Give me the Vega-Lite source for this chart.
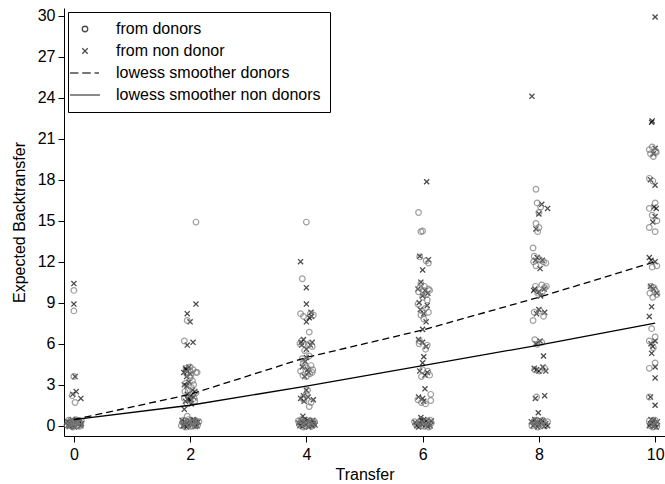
{
  "$schema": "https://vega.github.io/schema/vega-lite/v6.json",
  "width": 601,
  "height": 428,
  "autosize": {"type": "none"},
  "padding": {"left": 64, "top": 8, "right": 0, "bottom": 48},
  "background": "white",
  "config": {
    "view": {"stroke": null},
    "font": "Liberation Sans",
    "axis": {"grid": false, "domainColor": "black", "tickColor": "black", "labelColor": "black", "titleColor": "black", "labelFontSize": 16, "titleFontSize": 16, "titleFontWeight": "normal", "tickSize": 6, "domainWidth": 1, "tickWidth": 1},
    "legend": {"labelFontSize": 16, "labelColor": "black", "labelLimit": 400}
  },
  "datasets": {
    "donors": [
      {"t":-0.08,"y":0.1},{"t":-0.04,"y":0.3},{"t":0,"y":0.05},{"t":0.04,"y":0.2},{"t":0.08,"y":0},{"t":0.11,"y":0.15},{"t":-0.1,"y":0.25},{"t":0.02,"y":0.35},{"t":0.06,"y":0.4},{"t":-0.06,"y":0},{"t":0.09,"y":0.3},{"t":0,"y":0.2},
      {"t":-0.12,"y":0.05},{"t":-0.09,"y":0.4},{"t":-0.02,"y":-0.1},{"t":0.05,"y":0.0},{"t":0.13,"y":0.35},{"t":0.1,"y":-0.05},{"t":-0.05,"y":0.15},{"t":0.03,"y":0.45},
      {"t":0,"y":9.9},{"t":0,"y":8.4},{"t":0,"y":3.6},{"t":-0.03,"y":2.2},{"t":0.02,"y":1.7},
      {"t":2.1,"y":14.9},{"t":1.95,"y":7.7},{"t":1.9,"y":6.2},{"t":1.95,"y":0.7},
      {"t":2,"y":4.3},{"t":2.05,"y":4.1},{"t":2.1,"y":3.9},{"t":2.12,"y":3.9},{"t":2,"y":3.5},{"t":2.06,"y":3},{"t":1.92,"y":3.1},{"t":1.97,"y":2.6},{"t":2.03,"y":2.2},{"t":1.9,"y":2},{"t":2.08,"y":1.8},{"t":1.95,"y":1.6},{"t":2,"y":4},{"t":1.93,"y":4.2},{"t":2.02,"y":2.8},{"t":2.1,"y":2.4},
      {"t":1.94,"y":3.8},{"t":2.04,"y":3.3},{"t":1.91,"y":2.5},{"t":2.07,"y":2.0},{"t":1.99,"y":1.9},{"t":2.01,"y":3.7},
      {"t":1.9,"y":0.1},{"t":1.95,"y":0.3},{"t":2,"y":0},{"t":2.05,"y":0.2},{"t":2.1,"y":0.35},{"t":2.13,"y":0.05},{"t":1.87,"y":0.25},{"t":2.02,"y":0.4},{"t":2.08,"y":0},{"t":1.98,"y":0.15},
      {"t":1.85,"y":0.0},{"t":1.92,"y":-0.1},{"t":1.97,"y":0.45},{"t":2.03,"y":-0.05},{"t":2.11,"y":0.15},{"t":2.15,"y":0.3},{"t":1.89,"y":0.4},{"t":2.06,"y":0.3},
      {"t":4,"y":14.9},{"t":3.93,"y":10.75},{"t":3.9,"y":8.2},{"t":3.95,"y":8},{"t":4.12,"y":8.1},{"t":4.05,"y":6.85},{"t":3.92,"y":6.2},{"t":4.05,"y":6},{"t":4.1,"y":5.8},{"t":3.97,"y":5.5},{"t":3.93,"y":4.9},{"t":4.05,"y":5.1},{"t":3.95,"y":4.6},{"t":4.08,"y":4.4},{"t":4.02,"y":4.2},{"t":3.9,"y":4},{"t":4.1,"y":3.9},{"t":4,"y":3.6},{"t":4.06,"y":3.8},{"t":3.93,"y":2},{"t":4.08,"y":1.7},{"t":4.02,"y":2.6},{"t":4.05,"y":1.4},{"t":3.96,"y":1.9},{"t":4,"y":2.3},
      {"t":3.98,"y":4.4},{"t":4.11,"y":4.1},{"t":3.94,"y":3.7},{"t":4.03,"y":5.9},{"t":3.89,"y":6.0},{"t":4.07,"y":8.2},
      {"t":3.88,"y":0.1},{"t":3.93,"y":0.3},{"t":3.98,"y":0},{"t":4.03,"y":0.2},{"t":4.08,"y":0.35},{"t":4.12,"y":0.05},{"t":4,"y":0.4},{"t":3.9,"y":0.2},{"t":4.06,"y":0},{"t":4.1,"y":0.25},
      {"t":3.86,"y":0.35},{"t":3.95,"y":-0.1},{"t":4.01,"y":0.1},{"t":4.14,"y":0.3},{"t":4.09,"y":-0.05},{"t":3.91,"y":0.45},
      {"t":5.93,"y":15.6},{"t":5.97,"y":14.2},{"t":6,"y":14.25},{"t":5.95,"y":12.35},{"t":6.06,"y":12.07},{"t":6.1,"y":11.9},{"t":5.97,"y":10.4},{"t":6.03,"y":10.2},{"t":6.1,"y":10},{"t":5.93,"y":9.8},{"t":6.06,"y":9.6},{"t":6,"y":9.4},{"t":5.95,"y":10.1},{"t":6.08,"y":9.2},{"t":5.92,"y":8.9},{"t":6.05,"y":8.6},{"t":6.1,"y":8.3},{"t":5.97,"y":8.1},{"t":6.02,"y":7.8},{"t":5.95,"y":6.2},{"t":6.08,"y":5.9},{"t":6.05,"y":5.6},{"t":6,"y":4.1},{"t":6.12,"y":3.7},{"t":5.98,"y":3.6},{"t":6.14,"y":2.3},{"t":6.14,"y":1.85},{"t":5.98,"y":1.7},{"t":6.05,"y":1.6},{"t":5.92,"y":1.9},
      {"t":6.01,"y":9.9},{"t":5.99,"y":8.4},{"t":6.12,"y":9.9},{"t":5.94,"y":6.0},{"t":6.09,"y":4.0},
      {"t":5.88,"y":0.1},{"t":5.94,"y":0.25},{"t":6,"y":0},{"t":6.05,"y":0.3},{"t":6.1,"y":0.1},{"t":6.15,"y":0.2},{"t":5.97,"y":0.4},{"t":6.08,"y":0.35},{"t":5.91,"y":0},
      {"t":5.86,"y":0.3},{"t":6.03,"y":-0.05},{"t":6.13,"y":0.4},{"t":5.96,"y":0.15},{"t":6.11,"y":-0.1},
      {"t":7.95,"y":17.3},{"t":7.97,"y":16.3},{"t":8.03,"y":16},{"t":8,"y":15.6},{"t":7.95,"y":14.8},{"t":8,"y":14.5},{"t":7.98,"y":14.2},{"t":7.9,"y":13},{"t":7.92,"y":12.4},{"t":8,"y":12.2},{"t":8.08,"y":12},{"t":8.12,"y":11.9},{"t":7.95,"y":11.7},{"t":7.94,"y":10.2},{"t":8.05,"y":10.3},{"t":8.1,"y":10.1},{"t":7.98,"y":9.7},{"t":7.92,"y":8.3},{"t":8.08,"y":8},{"t":7.9,"y":7.7},{"t":8.02,"y":8.4},{"t":7.93,"y":6.3},{"t":8.05,"y":6.1},{"t":7.97,"y":5.95},{"t":7.93,"y":4.1},{"t":8.1,"y":4.2},{"t":7.96,"y":2.1},
      {"t":8.06,"y":9.8},{"t":8.13,"y":10.2},{"t":7.91,"y":12.0},{"t":8.03,"y":12.1},{"t":8.01,"y":4.0},
      {"t":7.95,"y":0.1},{"t":8,"y":0.3},{"t":8.05,"y":0.05},{"t":8.1,"y":0.2},{"t":7.9,"y":0.25},{"t":8.12,"y":0},{"t":7.93,"y":0.4},
      {"t":7.88,"y":0.0},{"t":7.98,"y":-0.1},{"t":8.07,"y":0.4},{"t":8.15,"y":0.3},{"t":8.02,"y":0.15},
      {"t":9.9,"y":20.2},{"t":9.95,"y":20.4},{"t":10.02,"y":20},{"t":9.97,"y":19.7},{"t":9.9,"y":18.1},{"t":9.96,"y":17.9},{"t":10,"y":16.3},{"t":9.9,"y":15.9},{"t":9.95,"y":15.4},{"t":10.03,"y":15},{"t":9.9,"y":14.5},{"t":10,"y":14.2},{"t":9.95,"y":11.6},{"t":10.03,"y":11.7},{"t":9.93,"y":10.2},{"t":10,"y":9.9},{"t":10.03,"y":9.6},{"t":9.96,"y":9.4},{"t":9.94,"y":7.1},{"t":9.9,"y":6.2},{"t":10,"y":6.5},{"t":9.97,"y":5.7},{"t":10,"y":4.6},{"t":9.9,"y":4.2},{"t":9.9,"y":2.1},
      {"t":10.01,"y":20.1},{"t":9.92,"y":19.9},{"t":9.98,"y":10.1},{"t":9.91,"y":9.7},
      {"t":9.92,"y":0},{"t":9.97,"y":0.3},{"t":10.02,"y":0.1},{"t":9.94,"y":0.2},{"t":10,"y":0.4},{"t":9.9,"y":0.35},{"t":10.03,"y":-0.05},{"t":9.96,"y":-0.1}
    ],
    "nondonors": [
      {"t":-0.07,"y":0.2},{"t":-0.02,"y":0},{"t":0.03,"y":0.3},{"t":0.07,"y":0.1},{"t":0.1,"y":0.25},{"t":-0.1,"y":0.05},{"t":0.05,"y":0.4},{"t":-0.05,"y":0.35},{"t":0.12,"y":0},{"t":0,"y":0.1},
      {"t":-0.11,"y":0.3},{"t":-0.03,"y":0.45},{"t":0.01,"y":-0.1},{"t":0.08,"y":0.35},{"t":0.13,"y":0.15},{"t":-0.08,"y":-0.05},
      {"t":0,"y":10.4},{"t":0,"y":8.9},{"t":0.02,"y":3.6},{"t":0.04,"y":2.5},{"t":-0.02,"y":2.3},{"t":0.12,"y":2},
      {"t":2.1,"y":8.9},{"t":1.95,"y":8.2},{"t":2,"y":7.6},{"t":1.95,"y":5.9},{"t":2.05,"y":6.1},{"t":1.9,"y":1.2},
      {"t":1.92,"y":4.2},{"t":1.96,"y":4},{"t":2,"y":3.8},{"t":1.94,"y":3.6},{"t":1.9,"y":3},{"t":1.98,"y":3.2},{"t":2.04,"y":2.6},{"t":1.95,"y":2.3},{"t":2.06,"y":2.1},{"t":2,"y":1.9},{"t":1.92,"y":1.8},{"t":2.02,"y":1.6},{"t":2.08,"y":2.5},{"t":1.97,"y":2},
      {"t":1.93,"y":4.1},{"t":1.89,"y":3.9},{"t":1.98,"y":4.3},{"t":1.94,"y":2.9},{"t":2.01,"y":2.2},{"t":1.96,"y":1.9},
      {"t":1.88,"y":0},{"t":1.93,"y":0.2},{"t":1.99,"y":0.35},{"t":2.04,"y":0.1},{"t":2.1,"y":0.25},{"t":2.12,"y":0},{"t":1.96,"y":0.05},{"t":2.07,"y":0.4},{"t":1.91,"y":0.3},
      {"t":1.86,"y":0.4},{"t":1.94,"y":-0.1},{"t":2.01,"y":0.15},{"t":2.09,"y":-0.05},{"t":2.14,"y":0.3},{"t":1.9,"y":0.05},{"t":2.05,"y":0.45},
      {"t":3.9,"y":12},{"t":4,"y":10.1},{"t":4,"y":8.9},{"t":4.08,"y":8.3},{"t":4.05,"y":7.9},{"t":4,"y":7.6},{"t":3.95,"y":6.3},{"t":4.1,"y":6.1},{"t":4,"y":5.6},{"t":3.92,"y":5.9},{"t":4,"y":5},{"t":3.98,"y":4.7},{"t":3.93,"y":4.3},{"t":4.04,"y":3.9},{"t":3.97,"y":3.6},{"t":4,"y":2.6},{"t":3.9,"y":2},{"t":4.03,"y":2.1},{"t":4.12,"y":1.9},{"t":3.96,"y":1.8},{"t":3.94,"y":0.7},
      {"t":3.91,"y":6.1},{"t":4.07,"y":5.9},{"t":4.02,"y":4.1},{"t":3.95,"y":2.2},{"t":4.09,"y":8.0},
      {"t":3.89,"y":0},{"t":3.95,"y":0.2},{"t":4,"y":0.1},{"t":4.05,"y":0.3},{"t":4.1,"y":0},{"t":4.13,"y":0.2},{"t":3.92,"y":0.35},{"t":4.02,"y":0.4},{"t":4.07,"y":0.15},
      {"t":3.87,"y":0.2},{"t":3.97,"y":0.45},{"t":4.04,"y":-0.1},{"t":4.11,"y":0.4},{"t":3.93,"y":-0.05},{"t":4.15,"y":0.05},
      {"t":6.07,"y":17.85},{"t":5.95,"y":12.4},{"t":6.1,"y":12.15},{"t":6,"y":11.4},{"t":5.97,"y":10.5},{"t":5.92,"y":10},{"t":6.04,"y":9.9},{"t":6,"y":9.5},{"t":6.09,"y":9.7},{"t":5.94,"y":9},{"t":6.08,"y":8.8},{"t":6.02,"y":8.2},{"t":5.96,"y":8.5},{"t":6.06,"y":7.6},{"t":6,"y":7.05},{"t":5.93,"y":6.3},{"t":6,"y":6.1},{"t":6.06,"y":5.8},{"t":6.02,"y":5.05},{"t":6,"y":4.6},{"t":5.95,"y":4},{"t":6.08,"y":3.9},{"t":6.04,"y":3.7},{"t":6.04,"y":2.7},{"t":5.93,"y":2.1},{"t":6,"y":2},{"t":6.02,"y":1.8},{"t":5.97,"y":0.6},
      {"t":5.9,"y":0},{"t":5.95,"y":0.15},{"t":6,"y":0.3},{"t":6.05,"y":0.05},{"t":6.1,"y":0.2},{"t":6.13,"y":0},{"t":5.98,"y":0.4},{"t":6.07,"y":0.35},
      {"t":5.87,"y":0.25},{"t":5.93,"y":-0.1},{"t":6.02,"y":0.45},{"t":6.09,"y":-0.05},{"t":6.15,"y":0.35},{"t":5.99,"y":0.1},
      {"t":7.88,"y":24.1},{"t":8.15,"y":15.9},{"t":8.05,"y":16.2},{"t":8,"y":15.5},{"t":7.95,"y":14.4},{"t":7.97,"y":12.3},{"t":8.02,"y":11.5},{"t":8.06,"y":12.1},{"t":7.93,"y":10},{"t":8,"y":9.8},{"t":8.03,"y":9.5},{"t":8,"y":8.5},{"t":7.96,"y":8.2},{"t":8.1,"y":8.3},{"t":7.95,"y":6},{"t":8.02,"y":6.2},{"t":8.08,"y":5.1},{"t":7.92,"y":4.2},{"t":8,"y":4},{"t":8.07,"y":4.3},{"t":7.94,"y":2},{"t":8.1,"y":2.2},{"t":7.99,"y":0.95},
      {"t":7.91,"y":9.9},{"t":8.09,"y":10.0},{"t":7.94,"y":12.1},{"t":7.96,"y":4.1},{"t":8.12,"y":4.0},
      {"t":7.9,"y":0},{"t":7.95,"y":0.2},{"t":8,"y":0.1},{"t":8.06,"y":0.35},{"t":8.12,"y":0.15},{"t":8.15,"y":0},{"t":8.03,"y":0.4},
      {"t":7.87,"y":0.3},{"t":7.93,"y":0.45},{"t":7.98,"y":-0.1},{"t":8.09,"y":-0.05},{"t":8.04,"y":0.2},
      {"t":10,"y":29.9},{"t":9.94,"y":22.2},{"t":9.97,"y":19.9},{"t":10,"y":20.3},{"t":9.92,"y":18},{"t":10,"y":17.6},{"t":9.98,"y":16},{"t":10,"y":15.3},{"t":9.96,"y":14.9},{"t":9.9,"y":12.3},{"t":9.93,"y":12.1},{"t":10,"y":12},{"t":9.97,"y":10},{"t":10.03,"y":9.7},{"t":9.94,"y":8.7},{"t":9.9,"y":8},{"t":10,"y":6.2},{"t":9.96,"y":5.8},{"t":9.94,"y":5.3},{"t":10,"y":4.3},{"t":10,"y":3.5},{"t":9.92,"y":2.1},{"t":10,"y":1.5},
      {"t":9.95,"y":22.3},{"t":9.92,"y":10.2},{"t":10.02,"y":15.9},{"t":9.93,"y":6.0},
      {"t":9.9,"y":0},{"t":9.95,"y":0.2},{"t":10,"y":0.1},{"t":10.04,"y":0.3},{"t":9.97,"y":0.4},{"t":9.92,"y":0.15},{"t":9.93,"y":0.45},{"t":10.02,"y":-0.1},{"t":9.98,"y":-0.05}
    ],
    "lowessD": [
      {"t":0,"y":0.45},{"t":2,"y":2.3},{"t":4,"y":5.0},{"t":6,"y":7.0},{"t":8,"y":9.4},{"t":10,"y":12.0}
    ],
    "lowessN": [
      {"t":0,"y":0.45},{"t":2,"y":1.5},{"t":4,"y":2.9},{"t":6,"y":4.4},{"t":8,"y":5.9},{"t":10,"y":7.5}
    ]
  },
  "encoding": {
    "x": {"field": "t", "type": "quantitative", "title": "Transfer",
      "scale": {"domain": [-0.17, 10.17], "nice": false, "zero": false},
      "axis": {"values": [0, 2, 4, 6, 8, 10], "labelPadding": 4, "titlePadding": 4}},
    "y": {"field": "y", "type": "quantitative", "title": "Expected Backtransfer",
      "scale": {"domain": [-0.75, 30.56], "nice": false, "zero": false},
      "axis": {"values": [0, 3, 6, 9, 12, 15, 18, 21, 24, 27, 30], "labelPadding": 3, "titlePadding": 10}},
    "shape": {"datum": "from non donor", "type": "nominal",
      "scale": {"domain": ["from donors", "from non donor", "lowess smoother donors", "lowess smoother non donors"],
                "range": ["circle", "M-1,-1L1,1M-1,1L1,-1", "M-5.48,0L-2.4,0M-1,0L2.1,0M3.5,0L5.1,0", "M-5.48,0L5.48,0"]},
      "legend": {"title": null, "orient": "top-left", "offset": 4, "padding": 9, "strokeColor": "black", "fillColor": "white", "labelOffset": 23, "rowPadding": 6, "symbolStrokeWidth": 1.3, "symbolSize": 30, "symbolFillColor": "transparent"}}
  },
  "layer": [
    {
      "data": {"name": "nondonors"},
      "mark": {"type": "point", "filled": false, "strokeWidth": 1.3, "size": 26, "color": "#000000"}
    },
    {
      "data": {"name": "donors"},
      "mark": {"type": "point", "filled": false, "strokeWidth": 1.2, "size": 32, "color": "#777777"},
      "encoding": {
        "shape": {"datum": "from donors", "type": "nominal"}
      }
    },
    {
      "data": {"name": "lowessD"},
      "mark": {"type": "line", "strokeWidth": 1.3, "strokeDash": [7, 4], "color": "#000000"},
      "encoding": {"shape": null}
    },
    {
      "data": {"name": "lowessN"},
      "mark": {"type": "line", "strokeWidth": 1.3, "color": "#000000"},
      "encoding": {"shape": null}
    }
  ]
}
